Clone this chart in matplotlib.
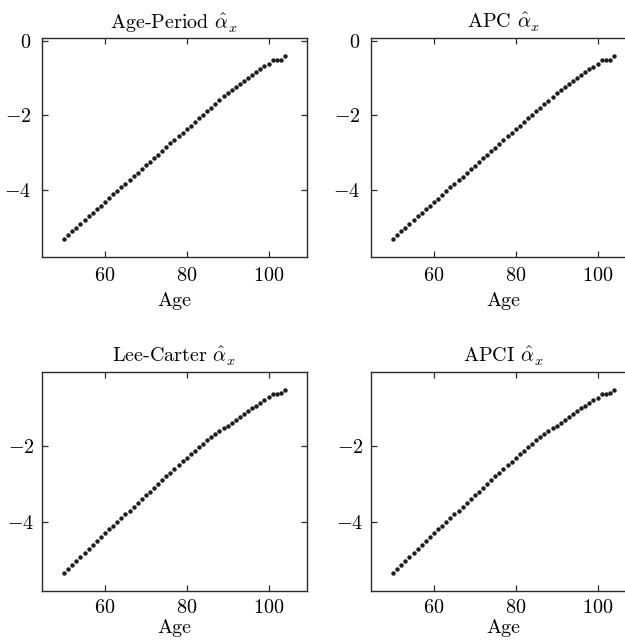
"""
Fitted age effects (alpha_x) for four mortality models, 2x2 panel.
"""

import matplotlib
matplotlib.use("Agg")
import matplotlib.pyplot as plt
from matplotlib.ticker import MultipleLocator

plt.rcParams['font.family'] = 'serif'
plt.rcParams['font.serif'] = ['cmr10', 'DejaVu Serif']
plt.rcParams['mathtext.fontset'] = 'cm'
plt.rcParams['axes.formatter.use_mathtext'] = True
plt.rcParams['axes.unicode_minus'] = True

# ages 50..104
ages = list(range(50, 105))

alpha_ap = [-5.32, -5.22, -5.12, -5.02, -4.92, -4.82, -4.72, -4.62, -4.53, -4.43,
            -4.33, -4.23, -4.13, -4.04, -3.94, -3.84, -3.74, -3.64, -3.55, -3.45,
            -3.35, -3.25, -3.15, -3.06, -2.96, -2.86, -2.76, -2.66, -2.57, -2.47,
            -2.37, -2.28, -2.18, -2.09, -1.99, -1.89, -1.80, -1.70, -1.60, -1.50,
            -1.41, -1.33, -1.24, -1.16, -1.08, -1.00, -0.92, -0.84, -0.76, -0.69,
            -0.62, -0.53, -0.52, -0.51, -0.42]

alpha_apc = [-5.32, -5.21, -5.11, -5.02, -4.92, -4.82, -4.72, -4.63, -4.53, -4.43,
             -4.34, -4.24, -4.14, -4.04, -3.94, -3.85, -3.75, -3.65, -3.55, -3.45,
             -3.36, -3.26, -3.16, -3.06, -2.96, -2.87, -2.77, -2.67, -2.57, -2.47,
             -2.38, -2.28, -2.19, -2.09, -1.99, -1.90, -1.80, -1.70, -1.61, -1.51,
             -1.42, -1.33, -1.25, -1.17, -1.08, -1.00, -0.92, -0.85, -0.77, -0.70,
             -0.62, -0.53, -0.52, -0.51, -0.42]

alpha_lc = [-5.34, -5.24, -5.14, -5.03, -4.93, -4.82, -4.72, -4.61, -4.51, -4.40,
            -4.30, -4.20, -4.10, -4.00, -3.90, -3.80, -3.70, -3.60, -3.50, -3.40,
            -3.30, -3.20, -3.10, -3.00, -2.90, -2.80, -2.70, -2.60, -2.50, -2.40,
            -2.31, -2.22, -2.12, -2.03, -1.94, -1.85, -1.76, -1.68, -1.60, -1.53,
            -1.46, -1.39, -1.31, -1.24, -1.16, -1.09, -1.01, -0.94, -0.87, -0.80,
            -0.72, -0.64, -0.62, -0.59, -0.53]

alpha_apci = [-5.34, -5.23, -5.13, -5.03, -4.92, -4.82, -4.71, -4.61, -4.50, -4.40,
              -4.30, -4.20, -4.10, -4.00, -3.90, -3.80, -3.70, -3.60, -3.50, -3.40,
              -3.30, -3.20, -3.10, -3.00, -2.90, -2.80, -2.70, -2.60, -2.50, -2.41,
              -2.31, -2.22, -2.13, -2.03, -1.94, -1.85, -1.77, -1.68, -1.60, -1.53,
              -1.46, -1.38, -1.31, -1.23, -1.16, -1.08, -1.01, -0.94, -0.87, -0.80,
              -0.73, -0.64, -0.62, -0.60, -0.53]

titles = ['Age-Period', 'APC', 'Lee-Carter', 'APCI']
series = [alpha_ap, alpha_apc, alpha_lc, alpha_apci]

W, H = 625, 641
fig = plt.figure(figsize=(W / 100, H / 100), dpi=100)

# axes boxes in pixels: (left, top); all the same size
boxes = [(42, 38), (371, 38), (42, 372), (371, 372)]
ax_w, ax_h = 265, 219

dark = '#2a2a2a'
fs = 14.5

for i, ((left, top), title, vals) in enumerate(zip(boxes, titles, series)):
    ax = fig.add_axes([left / W, 1 - (top + ax_h) / H, ax_w / W, ax_h / H])
    ax.plot(ages, vals, 'o', color='#1e1e1e', markersize=3.2, markeredgewidth=0)
    ax.margins(0.1)
    ax.xaxis.set_major_locator(MultipleLocator(20))
    ax.yaxis.set_major_locator(MultipleLocator(2))
    ax.tick_params(direction='in', top=True, right=True, length=4, width=0.9,
                   color=dark, labelsize=fs, pad=7.5 if i < 2 else 5.5)
    for sp in ax.spines.values():
        sp.set_color(dark)
        sp.set_linewidth(1.0)
    ax.set_title(title + r' $\hat{\alpha}_x$', fontsize=fs, pad=6.5)
    ax.set_xlabel('Age', fontsize=fs, labelpad=4.5 if i < 2 else 1.5)

fig.savefig('out.png', dpi=100)
